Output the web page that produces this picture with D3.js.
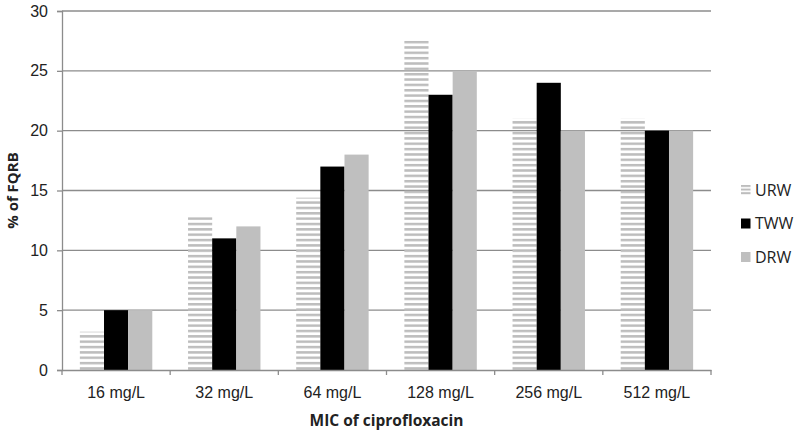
<!DOCTYPE html>
<html><head><meta charset="utf-8">
<script src="https://cdn.jsdelivr.net/npm/d3@7/dist/d3.min.js"></script>
<style>body{margin:0;background:#fff;}svg{display:block;font-family:"Open Sans","Liberation Sans",sans-serif;}</style>
</head><body><svg id="c" width="799" height="432"></svg>
<script>
const categories = ["16 mg/L","32 mg/L","64 mg/L","128 mg/L","256 mg/L","512 mg/L"];
const seriesNames = ["URW","TWW","DRW"];
const urw = [3.2, 12.9, 14.4, 27.5, 21, 21];
const tww = [5, 11, 17, 23, 24, 20];
const drw = [5, 12, 18, 25, 20, 20];
const yTicks = [0,5,10,15,20,25,30];
const seriesValues = [urw, tww, drw];

const svg = d3.select("#c");
const L = 62, R = 711, T = 11, B = 370;
const x = d3.scaleBand().domain(categories).range([L, R]).paddingInner(0).paddingOuter(0);
const y = d3.scaleLinear().domain([0,30]).range([B, T]);
const xs = d3.scaleBand().domain(seriesNames).range([0, x.bandwidth()]).paddingInner(0).paddingOuter(0.74);

const defs = svg.append("defs");
const pat = defs.append("pattern").attr("id","stripes").attr("patternUnits","userSpaceOnUse")
  .attr("x",0).attr("y",B-2.8).attr("width",8).attr("height",5.35);
pat.append("rect").attr("x",0).attr("y",0).attr("width",8).attr("height",2.5).attr("fill","#bdbdbd");

// gridlines
svg.append("g").selectAll("line").data(yTicks.filter(d=>d>0)).join("line")
  .attr("x1",L).attr("x2",R).attr("y1",d=>y(d)).attr("y2",d=>y(d))
  .attr("stroke","#8c8c8c").attr("stroke-width",1.3);

const fills = ["url(#stripes)","#000000","#bfbfbf"];
seriesNames.forEach((s,i)=>{
  svg.append("g").selectAll("rect").data(categories).join("rect")
    .attr("x",c=>x(c)+xs(s)).attr("width",xs.bandwidth())
    .attr("y",(c,j)=>y(seriesValues[i][j])).attr("height",(c,j)=>B-y(seriesValues[i][j]))
    .attr("fill",fills[i]);
});

// y axis
const ya = svg.append("g").attr("transform",`translate(${L},0)`)
  .call(d3.axisLeft(y).tickValues(yTicks).tickSize(5).tickPadding(9));
ya.select(".domain").attr("stroke","#8c8c8c").attr("stroke-width",1.3);
ya.selectAll(".tick line").attr("stroke","#8c8c8c").attr("stroke-width",1.3);
ya.selectAll(".tick text").attr("font-size",16).attr("fill","#222").attr("font-family","inherit");

// x axis
const xa = svg.append("g").attr("transform",`translate(0,${B})`)
  .call(d3.axisBottom(x).tickSize(0).tickPadding(17));
xa.select(".domain").attr("stroke","#8c8c8c").attr("stroke-width",1.3);
xa.selectAll(".tick text").attr("font-size",16).attr("fill","#222").attr("font-family","inherit");
svg.append("g").selectAll("line").data(d3.range(categories.length+1)).join("line")
  .attr("x1",i=>L+i*x.step()).attr("x2",i=>L+i*x.step())
  .attr("y1",B).attr("y2",B+5).attr("stroke","#8c8c8c").attr("stroke-width",1.3);

// titles
svg.append("text").attr("x",(L+R)/2).attr("y",426).attr("text-anchor","middle")
  .attr("font-size",15.5).attr("font-weight","bold").attr("fill","#222").text("MIC of ciprofloxacin");
svg.append("text").attr("transform",`translate(18,${(T+B)/2}) rotate(-90)`).attr("text-anchor","middle")
  .attr("font-size",15).attr("font-weight","bold").attr("fill","#222").text("% of FQRB");

// legend
const lpat = defs.append("pattern").attr("id","lstripes").attr("patternUnits","userSpaceOnUse")
  .attr("x",0).attr("y",185).attr("width",8).attr("height",3.6);
lpat.append("rect").attr("x",0).attr("y",0).attr("width",8).attr("height",2).attr("fill","#bdbdbd");
const lfills = ["url(#lstripes)","#000000","#bfbfbf"];
const lg = svg.append("g");
seriesNames.forEach((s,i)=>{
  const cy = 190 + i*33.5;
  lg.append("rect").attr("x",741).attr("y",cy-5).attr("width",9.5).attr("height",10).attr("fill",lfills[i]);
  lg.append("text").attr("x",755).attr("y",cy+5.5).attr("font-size",16).attr("fill","#222").text(s);
});
</script></body></html>
